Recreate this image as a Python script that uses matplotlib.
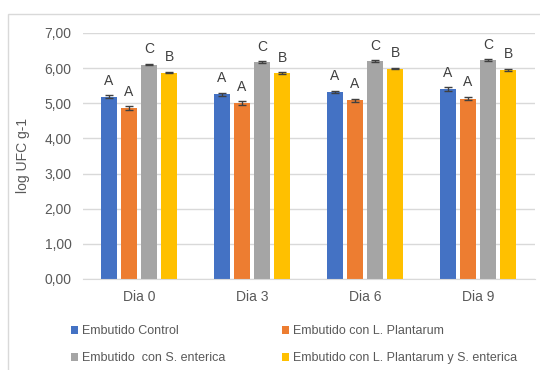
import numpy as np
import matplotlib.pyplot as plt
from matplotlib.patches import Rectangle

plt.rcParams['font.family'] = ['Liberation Sans', 'DejaVu Sans']

days = ['Dia 0', 'Dia 3', 'Dia 6', 'Dia 9']
series = ['Embutido Control', 'Embutido con L. Plantarum',
          'Embutido  con S. enterica', 'Embutido con L. Plantarum y S. enterica']
control = [5.18, 5.25, 5.32, 5.40]
plantarum = [4.86, 5.00, 5.08, 5.13]
enterica = [6.10, 6.17, 6.19, 6.22]
mixed = [5.87, 5.85, 5.98, 5.95]
err_control = [0.04, 0.04, 0.04, 0.05]
err_plantarum = [0.05, 0.05, 0.05, 0.05]
err_enterica = [0.02, 0.02, 0.03, 0.03]
err_mixed = [0.02, 0.03, 0.02, 0.03]
letters = [['A', 'A', 'A', 'A'], ['A', 'A', 'A', 'A'],
           ['C', 'C', 'C', 'C'], ['B', 'B', 'B', 'B']]

colors = ['#4472C4', '#ED7D31', '#A5A5A5', '#FFC000']
values = [control, plantarum, enterica, mixed]
errors = [err_control, err_plantarum, err_enterica, err_mixed]

fig = plt.figure(figsize=(5.4, 3.7), dpi=100)
ax = fig.add_axes([0.153, 0.246, 0.837, 0.665])

x = np.arange(len(days))
width = 0.145
step = 0.178
bars = []
for i, (vals, errs, c, name) in enumerate(zip(values, errors, colors, series)):
    pos = x + (i - 1.5) * step
    b = ax.bar(pos, vals, width, color=c, label=name, zorder=2,
               yerr=errs, error_kw=dict(ecolor='#404040', elinewidth=1, capsize=3, capthick=1))
    bars.append(b)
    for p, v, e, t in zip(pos, vals, errs, letters[i]):
        ax.text(p, v + e + 0.22, t, ha='center', va='bottom', fontsize=10, color='#404040')

ax.set_ylim(0, 7)
ax.set_xlim(-0.5, 3.5)
ax.set_yticks(np.arange(0, 7.01, 1))
ax.set_yticklabels([f'{v:.2f}'.replace('.', ',') for v in np.arange(0, 7.01, 1)])
ax.set_xticks(x)
ax.set_xticklabels(days)
ax.yaxis.grid(True, color='#D9D9D9', linewidth=1, zorder=0)
ax.set_axisbelow(True)
for s in ['top', 'right', 'left']:
    ax.spines[s].set_visible(False)
ax.spines['bottom'].set_color('#D9D9D9')
ax.tick_params(axis='both', length=0, labelsize=10, labelcolor='#595959', pad=8)
ax.set_ylabel('log UFC g-1', fontsize=10, color='#595959', labelpad=10)

# legend fills column-wise, so order handles to read row by row
order = [0, 2, 1, 3]
fig.legend([bars[k] for k in order], [series[k] for k in order],
           loc='lower left', bbox_to_anchor=(0.11, -0.015), ncol=2, frameon=False,
           fontsize=9, labelcolor='#595959', handlelength=0.6, handleheight=0.6,
           handletextpad=0.3, columnspacing=4.5, labelspacing=1.2)

fig.patches.append(Rectangle((8 / 540, -0.1), 1.2, 1 - 14 / 370 + 0.1,
                             transform=fig.transFigure, fill=False,
                             edgecolor='#D9D9D9', linewidth=1))

fig.savefig('out.png', dpi=100)
